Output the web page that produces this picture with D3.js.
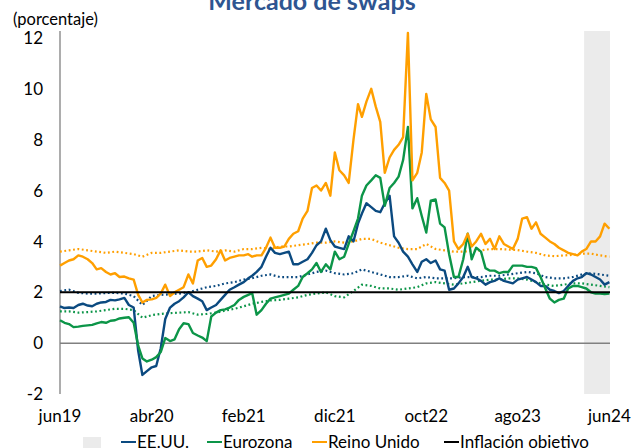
<!DOCTYPE html>
<html>
<head>
<meta charset="utf-8">
<script src="https://cdn.jsdelivr.net/npm/d3@7"></script>
<style>
  body { margin: 0; background: #fff; }
  svg { display: block; font-family: Lato, "Open Sans", sans-serif; }
</style>
</head>
<body>
<div id="chart"></div>
<script>
// fechas: quincenales (1 y 16 de cada mes) para las series diarias, mensuales para las punteadas
const fechasQuincena = d3.range(121).map(i => new Date(2019, 5 + Math.floor(i / 2), i % 2 ? 16 : 1));
const fechasMes = d3.range(61).map(i => new Date(2019, 5 + i, 1));

const tickFechas = ["2019-06-01", "2020-04-01", "2021-02-01", "2021-12-01", "2022-10-01", "2023-08-01", "2024-06-01"];
const tickEtiquetas = ["jun19", "abr20", "feb21", "dic21", "oct22", "ago23", "jun24"];
const yTicks = [-2, 0, 2, 4, 6, 8, 10, 12];

const periodoSombreado = ["2024-03-09", "2024-06-03"];
const inflacionObjetivo = 2;

// swaps de inflación a 1 año (líneas continuas)
const eeuu = [
  1.45, 1.38, 1.4, 1.38, 1.5, 1.55, 1.48, 1.45, 1.55, 1.6, 1.62, 1.7, 1.68, 1.72, 1.78, 1.5, 1.4, -0.3,
  -1.25, -1.1, -0.95, -0.9, -0.2, 0.95, 1.4, 1.55, 1.65, 1.8, 2.0, 1.85,
  1.75, 1.65, 1.3, 1.4, 1.5, 1.7, 1.9, 2.1, 2.2, 2.3, 2.4, 2.55,
  2.65, 2.8, 3.0, 3.4, 3.75, 3.55, 3.5, 3.55, 3.6, 3.1, 3.1, 3.2,
  3.3, 3.55, 3.85, 4.0, 4.5, 4.05, 3.8, 3.75, 3.7, 4.2, 4.0, 4.7,
  5.1, 5.5, 5.35, 5.2, 5.15, 5.5, 5.8, 4.2, 3.95, 3.6, 3.4, 3.1,
  2.8, 3.2, 3.3, 3.15, 3.25, 2.9, 2.85, 2.1, 2.15, 2.35, 2.6, 3.0,
  2.6, 2.55, 2.45, 2.3, 2.4, 2.45, 2.55, 2.45, 2.4, 2.35, 2.5, 2.55,
  2.6, 2.5, 2.4, 2.25, 2.25, 2.1, 2.05, 1.97, 2.05, 2.25, 2.45, 2.55,
  2.6, 2.75, 2.7, 2.6, 2.5, 2.3, 2.4
];
const eurozona = [
  0.9, 0.8, 0.75, 0.63, 0.65, 0.68, 0.7, 0.72, 0.78, 0.83, 0.8, 0.88, 0.9, 0.97, 1.0, 1.02, 0.8, -0.1,
  -0.6, -0.72, -0.65, -0.55, -0.35, 0.2, 0.08, 0.15, 0.55, 0.78, 0.75, 0.4,
  0.3, 0.22, 0.08, 1.05, 1.2, 1.3, 1.33, 1.4, 1.5, 1.7, 1.82, 1.9,
  1.97, 1.12, 1.3, 1.55, 1.75, 1.8, 1.85, 1.9, 1.95, 2.1, 2.25, 2.6,
  2.75, 2.9, 3.15, 2.8, 3.1, 2.9, 3.6, 3.3, 3.4, 3.9, 4.4, 4.9,
  5.8, 6.2, 6.4, 6.6, 6.5, 5.4, 6.1, 6.3, 6.55, 7.2, 8.5, 5.3,
  5.7, 5.0, 4.35, 5.6, 5.65, 4.7, 4.55, 3.5, 2.6, 2.6, 3.3, 4.3,
  3.3, 3.75, 3.6, 2.95, 2.85, 2.85, 2.75, 2.8, 2.8, 3.05, 3.05, 3.05,
  3.0, 3.0, 2.95, 2.6, 2.15, 1.75, 1.6, 1.7, 1.75, 2.15, 2.25, 2.25,
  2.2, 2.15, 2.0, 1.95, 1.95, 1.93, 1.95
];
const reinoUnido = [
  3.05, 3.15, 3.25, 3.3, 3.45, 3.4, 3.3, 3.15, 2.9, 2.95, 2.8, 2.7, 2.75, 2.6, 2.62, 2.55, 2.5, 1.9,
  1.6, 1.7, 1.72, 1.78, 1.95, 2.3, 1.85, 2.0, 2.1, 2.2, 2.7, 2.35,
  3.25, 3.35, 3.0, 3.05, 3.3, 3.65, 3.25, 3.35, 3.4, 3.45, 3.45, 3.5,
  3.4, 3.45, 3.45, 3.75, 4.15, 3.75, 3.75, 3.8, 4.1, 4.3, 4.4, 4.9,
  5.2, 6.1, 6.2, 6.0, 6.3, 5.8, 7.5, 6.8, 6.6, 6.3, 8.0, 9.4,
  8.9, 9.5, 10.0, 9.3, 8.7, 6.7, 7.3, 7.6, 7.8, 8.1, 12.2, 6.4,
  6.7, 7.5, 9.8, 8.8, 8.5, 6.5, 6.3, 6.0, 4.0, 3.7, 3.9, 4.3,
  3.8, 4.0, 4.3, 3.9, 4.1, 3.7, 4.2, 3.9, 3.8, 3.7, 4.1, 4.9,
  4.95, 4.5, 4.75, 4.3, 4.15, 4.0, 3.9, 3.75, 3.65, 3.55, 3.5, 3.45,
  3.6, 3.7, 4.0, 4.0, 4.2, 4.7, 4.5
];

// largo plazo (líneas punteadas), mensual
const eeuuLargo = [
  2.05, 2.1, 1.98, 1.95, 1.95, 1.97, 1.98, 1.95, 1.85, 1.5,
  1.85, 1.9, 1.92, 1.95, 2.0, 2.1, 2.2, 2.25, 2.35, 2.4,
  2.5, 2.55, 2.65, 2.7, 2.6, 2.6, 2.6, 2.7, 2.8, 2.85,
  2.75, 2.7, 2.75, 2.9, 2.8, 2.7, 2.6, 2.6, 2.65, 2.55,
  2.6, 2.55, 2.55, 2.55, 2.6, 2.6, 2.6, 2.65, 2.65, 2.7,
  2.75, 2.8, 2.75, 2.6, 2.55, 2.55, 2.6, 2.7, 2.75, 2.7,
  2.65
];
const eurozonaLargo = [
  1.25, 1.25, 1.2, 1.22, 1.25, 1.3, 1.35, 1.35, 1.3, 1.0,
  1.1, 1.15, 1.18, 1.2, 1.22, 1.12, 1.15, 1.2, 1.28, 1.35,
  1.45, 1.55, 1.62, 1.68, 1.7, 1.75, 1.8, 1.9, 1.95, 2.0,
  1.85, 1.8, 2.05, 2.3, 2.25, 2.15, 2.15, 2.1, 2.15, 2.2,
  2.35, 2.4, 2.35, 2.3, 2.35, 2.4, 2.45, 2.5, 2.5, 2.55,
  2.55, 2.5, 2.4, 2.3, 2.25, 2.3, 2.35, 2.35, 2.3, 2.25,
  2.2
];
const reinoUnidoLargo = [
  3.6, 3.65, 3.7, 3.65, 3.6, 3.55, 3.6, 3.55, 3.5, 3.4,
  3.55, 3.55, 3.6, 3.65, 3.6, 3.6, 3.65, 3.6, 3.65, 3.6,
  3.7, 3.7, 3.75, 3.7, 3.8, 3.8, 3.85, 3.9, 3.95, 3.95,
  4.0, 3.95, 4.0, 4.1, 4.1, 3.95, 3.85, 3.75, 3.7, 3.7,
  3.9, 3.7, 3.65, 3.6, 3.6, 3.62, 3.65, 3.7, 3.7, 3.68,
  3.66, 3.6, 3.55, 3.45, 3.42, 3.45, 3.47, 3.52, 3.52, 3.45,
  3.4
];

const colores = { eeuu: "#0b4a80", eurozona: "#0c9548", reinoUnido: "#ff9f00" };

const width = 631, height = 448;
const margin = { top: 38, right: 21, bottom: 54, left: 60 };

const svg = d3.select("#chart").append("svg")
  .attr("width", width)
  .attr("height", height);

const x = d3.scaleTime()
  .domain([new Date(2019, 5, 1), new Date(2024, 5, 3)])
  .range([margin.left, width - margin.right]);

const y = d3.scaleLinear()
  .domain([-2, 12])
  .range([height - margin.bottom, margin.top]);

const plotTop = 31;

// periodo sombreado
svg.append("rect")
  .attr("x", x(new Date(periodoSombreado[0])))
  .attr("y", plotTop)
  .attr("width", x(new Date(periodoSombreado[1])) - x(new Date(periodoSombreado[0])))
  .attr("height", y(-2) - plotTop)
  .attr("fill", "#ebebeb");

// linea del cero
svg.append("line")
  .attr("x1", x.range()[0]).attr("x2", x.range()[1])
  .attr("y1", y(0)).attr("y2", y(0))
  .attr("stroke", "#808080")
  .attr("stroke-width", 1.5);

// eje y
svg.append("line")
  .attr("x1", margin.left).attr("x2", margin.left)
  .attr("y1", plotTop).attr("y2", y(-2))
  .attr("stroke", "#808080")
  .attr("stroke-width", 1.3);

svg.append("g")
  .selectAll("text")
  .data(yTicks)
  .join("text")
  .attr("x", 43)
  .attr("y", d => y(d))
  .attr("dy", "0.36em")
  .attr("text-anchor", "end")
  .style("font-size", "17px")
  .attr("fill", "#000")
  .text(d => d);

svg.append("text")
  .attr("x", 13)
  .attr("y", 25)
  .style("font-size", "16.5px")
  .text("(porcentaje)");

// eje x (solo etiquetas)
svg.append("g")
  .selectAll("text")
  .data(tickFechas)
  .join("text")
  .attr("x", d => x(new Date(d + "T00:00")))
  .attr("y", 422)
  .attr("text-anchor", "middle")
  .style("font-size", "17px")
  .text((d, i) => tickEtiquetas[i]);

const lineaQ = d3.line()
  .x((d, i) => x(fechasQuincena[i]))
  .y(d => y(d));

const lineaM = d3.line()
  .x((d, i) => x(fechasMes[i]))
  .y(d => y(d));

// series de largo plazo punteadas
[[eeuuLargo, colores.eeuu], [eurozonaLargo, colores.eurozona], [reinoUnidoLargo, colores.reinoUnido]]
  .forEach(([serie, color]) => {
    svg.append("path")
      .datum(serie)
      .attr("fill", "none")
      .attr("stroke", color)
      .attr("stroke-width", 2.2)
      .attr("stroke-dasharray", "1.8 2.6")
      .attr("d", lineaM);
  });

// series a corto plazo
[[eeuu, colores.eeuu], [eurozona, colores.eurozona], [reinoUnido, colores.reinoUnido]]
  .forEach(([serie, color]) => {
    svg.append("path")
      .datum(serie)
      .attr("fill", "none")
      .attr("stroke", color)
      .attr("stroke-width", 2.4)
      .attr("stroke-linejoin", "round")
      .attr("d", lineaQ);
  });

// inflación objetivo
svg.append("line")
  .attr("x1", x.range()[0]).attr("x2", x.range()[1])
  .attr("y1", y(inflacionObjetivo)).attr("y2", y(inflacionObjetivo))
  .attr("stroke", "#000")
  .attr("stroke-width", 2);

// titulo (cortado arriba como en el original)
svg.append("text")
  .attr("x", 312)
  .attr("y", 10)
  .attr("text-anchor", "middle")
  .style("font-size", "25px")
  .style("font-weight", "bold")
  .attr("fill", "#2e5591")
  .text("Mercado de swaps");

// leyenda
const leyenda = svg.append("g");
leyenda.append("rect")
  .attr("x", 83).attr("y", 437)
  .attr("width", 18).attr("height", 14)
  .attr("fill", "#ebebeb");

const itemsLeyenda = [
  { nombre: "EE.UU.", color: colores.eeuu, x: 121 },
  { nombre: "Eurozona", color: colores.eurozona, x: 207 },
  { nombre: "Reino Unido", color: colores.reinoUnido, x: 312 },
  { nombre: "Inflación objetivo", color: "#000", x: 444 }
];
const item = leyenda.selectAll("g.item")
  .data(itemsLeyenda)
  .join("g")
  .attr("class", "item")
  .attr("transform", d => `translate(${d.x},0)`);
item.append("line")
  .attr("x1", 0).attr("x2", 15)
  .attr("y1", 442).attr("y2", 442)
  .attr("stroke", d => d.color)
  .attr("stroke-width", 2);
item.append("text")
  .attr("x", 16)
  .attr("y", 448)
  .style("font-size", "17px")
  .text(d => d.nombre);
</script>
</body>
</html>
